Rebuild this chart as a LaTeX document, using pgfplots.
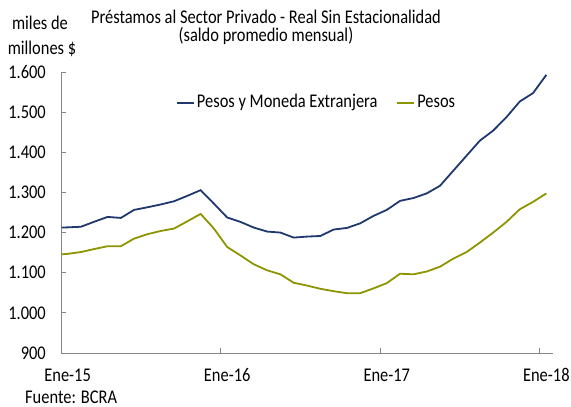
\documentclass[border=0pt]{standalone}
\usepackage{fontspec}
\setmainfont{Carlito}
\usepackage{pgfplots}
\pgfplotsset{compat=1.18}
\definecolor{navyline}{RGB}{31,56,110}
\definecolor{oliveline}{RGB}{140,149,0}
\definecolor{axgray}{RGB}{134,134,134}
\begin{document}
\fontsize{16.5}{19}\selectfont
\begin{tikzpicture}[txt/.style={inner sep=0pt, yscale=1.18}]
\path[use as bounding box] (0,0) rectangle (571bp,407bp);
\begin{axis}[
  at={(61bp,54bp)}, anchor=south west,
  scale only axis, width=492bp, height=281bp,
  xmin=-0.5, xmax=36.5, ymin=900, ymax=1600,
  axis x line*=bottom, axis y line*=left,
  axis line style={draw=axgray, line width=0.8bp, -},
  tick align=inside, major tick length=5bp,
  tick style={draw=axgray, line width=0.8bp},
  xtick={-0.5,11.5,23.5,35.5}, xticklabels={},
  extra x ticks={0,12,24,36},
  extra x tick labels={Ene-15,Ene-16,Ene-17,Ene-18},
  extra x tick style={major tick length=0pt,
     xticklabel style={anchor=base, inner sep=0pt, yshift=-28.5bp, yscale=1.18}},
  ytick={900,1000,1100,1200,1300,1400,1500,1600},
  yticklabels={900,1.000,1.100,1.200,1.300,1.400,1.500,1.600},
  yticklabel style={anchor=east, inner sep=0pt, xshift=-15bp, yscale=1.18},
  legend columns=2,
  legend style={at={(0.2337,0.8907)}, anchor=west, draw=none, fill=none,
     inner sep=0pt, font=\fontsize{16.5}{19}\selectfont,
     nodes={yscale=1.18},
     /tikz/every even column/.append style={column sep=17bp}},
  legend cell align=left,
  legend image code/.code={\draw[#1] (0bp,0bp) -- (17bp,0bp);},
  clip=false,
]
\addplot[navyline, line width=1.8bp] coordinates {
(-0.45,1212.5) (0,1213) (1,1214.5) (2,1227) (3,1239) (4,1236.5) (5,1256.5)
(6,1263) (7,1270) (8,1278) (9,1291.5) (10,1305.7) (11,1272) (12,1237.5)
(13,1226.5) (14,1212.5) (15,1202.5) (16,1200) (17,1187.5) (18,1190)
(19,1191.5) (20,1207.5) (21,1211.5) (22,1223) (23,1241.5) (24,1256.5)
(25,1279) (26,1286) (27,1297.5) (28,1316.5) (29,1354) (30,1391.5)
(31,1429) (32,1454) (33,1487.5) (34,1526.5) (35,1547.5) (36,1593)
};
\addlegendentry{Pesos y Moneda Extranjera}
\addplot[oliveline, line width=1.8bp] coordinates {
(-0.45,1145.8) (0,1147) (1,1151.5) (2,1159) (3,1166) (4,1166) (5,1185)
(6,1196) (7,1204) (8,1210) (9,1228) (10,1246.5) (11,1210) (12,1164)
(13,1143) (14,1121) (15,1106) (16,1096) (17,1075) (18,1068) (19,1060)
(20,1054) (21,1049) (22,1049) (23,1061) (24,1074) (25,1097.5) (26,1096)
(27,1103) (28,1115) (29,1135) (30,1151.5) (31,1175) (32,1200)
(33,1226.5) (34,1258) (35,1276.5) (36,1297.5)
};
\addlegendentry{Pesos}
\end{axis}
\node[txt, anchor=base] at (266bp,383bp) {Préstamos al Sector Privado - Real Sin Estacionalidad};
\node[txt, anchor=base] at (266bp,365bp) {(saldo promedio mensual)};
\node[txt, anchor=base] at (40bp,377bp) {miles de};
\node[txt, anchor=base] at (42bp,352bp) {millones \$};
\node[txt, anchor=base west] at (25bp,4bp) {Fuente: BCRA};
\end{tikzpicture}
\end{document}
